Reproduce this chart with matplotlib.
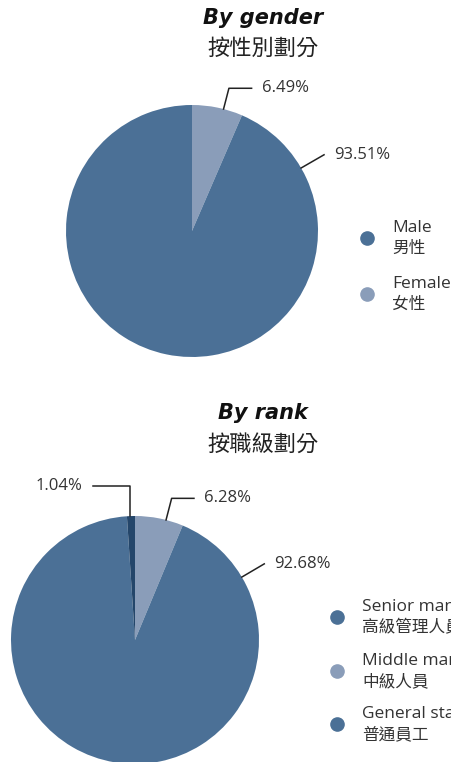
import numpy as np
import matplotlib as mpl

mpl.use('Agg')

import matplotlib.pyplot as plt
from matplotlib.lines import Line2D

# data
gender_labels = ['Female', 'Male']
gender_values = [6.49, 93.51]
gender_colors = ['#8a9db9', '#4b7096']
gender_legend = [('Male', '男性', '#4b7096'), ('Female', '女性', '#8a9db9')]

rank_labels = ['Middle management', 'Senior management', 'General staff']
rank_values = [6.28, 92.68, 1.04]
rank_colors = ['#8a9db9', '#4b7096', '#24466a']
rank_legend = [('Senior management', '高級管理人員', '#4b7096'),
               ('Middle management', '中級人員', '#8a9db9'),
               ('General staff', '普通員工', '#4b7096')]

FAMILY = ['Open Sans', 'Noto Sans CJK TC', 'DejaVu Sans']
TXT = '#333333'
W, H = 451, 762

plt.rcParams['font.family'] = FAMILY

fig = plt.figure(figsize=(W / 100, H / 100), dpi=100)

# overlay axes in pixel coordinates (y down) for titles and legends
ov = fig.add_axes([0, 0, 1, 1], zorder=5)
ov.set_xlim(0, W)
ov.set_ylim(H, 0)
ov.axis('off')
ov.patch.set_alpha(0)


def pie_axes(cx, cy, r):
    return fig.add_axes([(cx - r) / W, (H - cy - r) / H, 2 * r / W, 2 * r / H])


def draw_pie(ax, values, colors, label_angles, elbows, sides):
    wedges, _ = ax.pie(values, colors=colors, startangle=90, counterclock=False,
                       radius=1, wedgeprops=dict(linewidth=0))
    ax.set_xlim(-1, 1)
    ax.set_ylim(-1, 1)
    ax.set_aspect('equal')
    ax.axis('off')
    for v, ang, elb, side in zip(values, label_angles, elbows, sides):
        a = np.deg2rad(ang)
        x0, y0 = np.cos(a), np.sin(a)
        x1, y1 = elb * np.cos(a), elb * np.sin(a)
        if side == 'up':
            # straight up, then left
            x1 = x0
            xs = [x0, x1, x1 - 0.30]
            ys = [y0, y1, y1]
            ax.plot(xs, ys, color='#222222', lw=1.1, clip_on=False)
            ax.text(x1 - 0.38, y1, '%.2f%%' % v, ha='right', va='center',
                    fontsize=12, color=TXT, clip_on=False)
        elif side == 'elbow':
            xs = [x0, x1, x1 + 0.18]
            ys = [y0, y1, y1]
            ax.plot(xs, ys, color='#222222', lw=1.1, clip_on=False)
            ax.text(x1 + 0.26, y1, '%.2f%%' % v, ha='left', va='center',
                    fontsize=12, color=TXT, clip_on=False)
        else:
            ax.plot([x0, x1], [y0, y1], color='#222222', lw=1.1, clip_on=False)
            ax.text(x1 + 0.08, y1, '%.2f%%' % v, ha='left', va='center',
                    fontsize=12, color=TXT, clip_on=False)


# By gender
ax1 = pie_axes(192, 231, 126)
draw_pie(ax1, gender_values, gender_colors, [75.5, 30.0], [1.17, 1.21], ['elbow', 'radial'])

# By rank
ax2 = pie_axes(135, 640, 124)
draw_pie(ax2, rank_values, rank_colors, [75.5, 30.5, 92.3], [1.18, 1.21, 1.24],
         ['elbow', 'radial', 'up'])

# titles
for y_en, y_zh, en, zh in [(18, 48, 'By gender', '按性別劃分'),
                           (413, 444, 'By rank', '按職級劃分')]:
    ov.text(263, y_en, en, ha='center', va='center', fontsize=15,
            fontweight='bold', style='italic', family='DejaVu Sans', color='#111111')
    ov.text(263, y_zh, zh, ha='center', va='center', fontsize=16,
            family=['Noto Sans CJK TC'], color='#222222')


def draw_legend(items, x_dot, x_txt, y_dots):
    for (en, zh, c), yd in zip(items, y_dots):
        ov.add_line(Line2D([x_dot], [yd], marker='o', markersize=9.5,
                           color=c, linestyle='none'))
        ov.text(x_txt, yd - 10, en, ha='left', va='center', fontsize=12.5, color=TXT)
        ov.text(x_txt, yd + 11, zh, ha='left', va='center', fontsize=12, color=TXT)


draw_legend(gender_legend, 367, 392, [238, 294])
draw_legend(rank_legend, 337, 362, [617, 671, 724])

plt.savefig('out.png', dpi=100)
plt.close()
